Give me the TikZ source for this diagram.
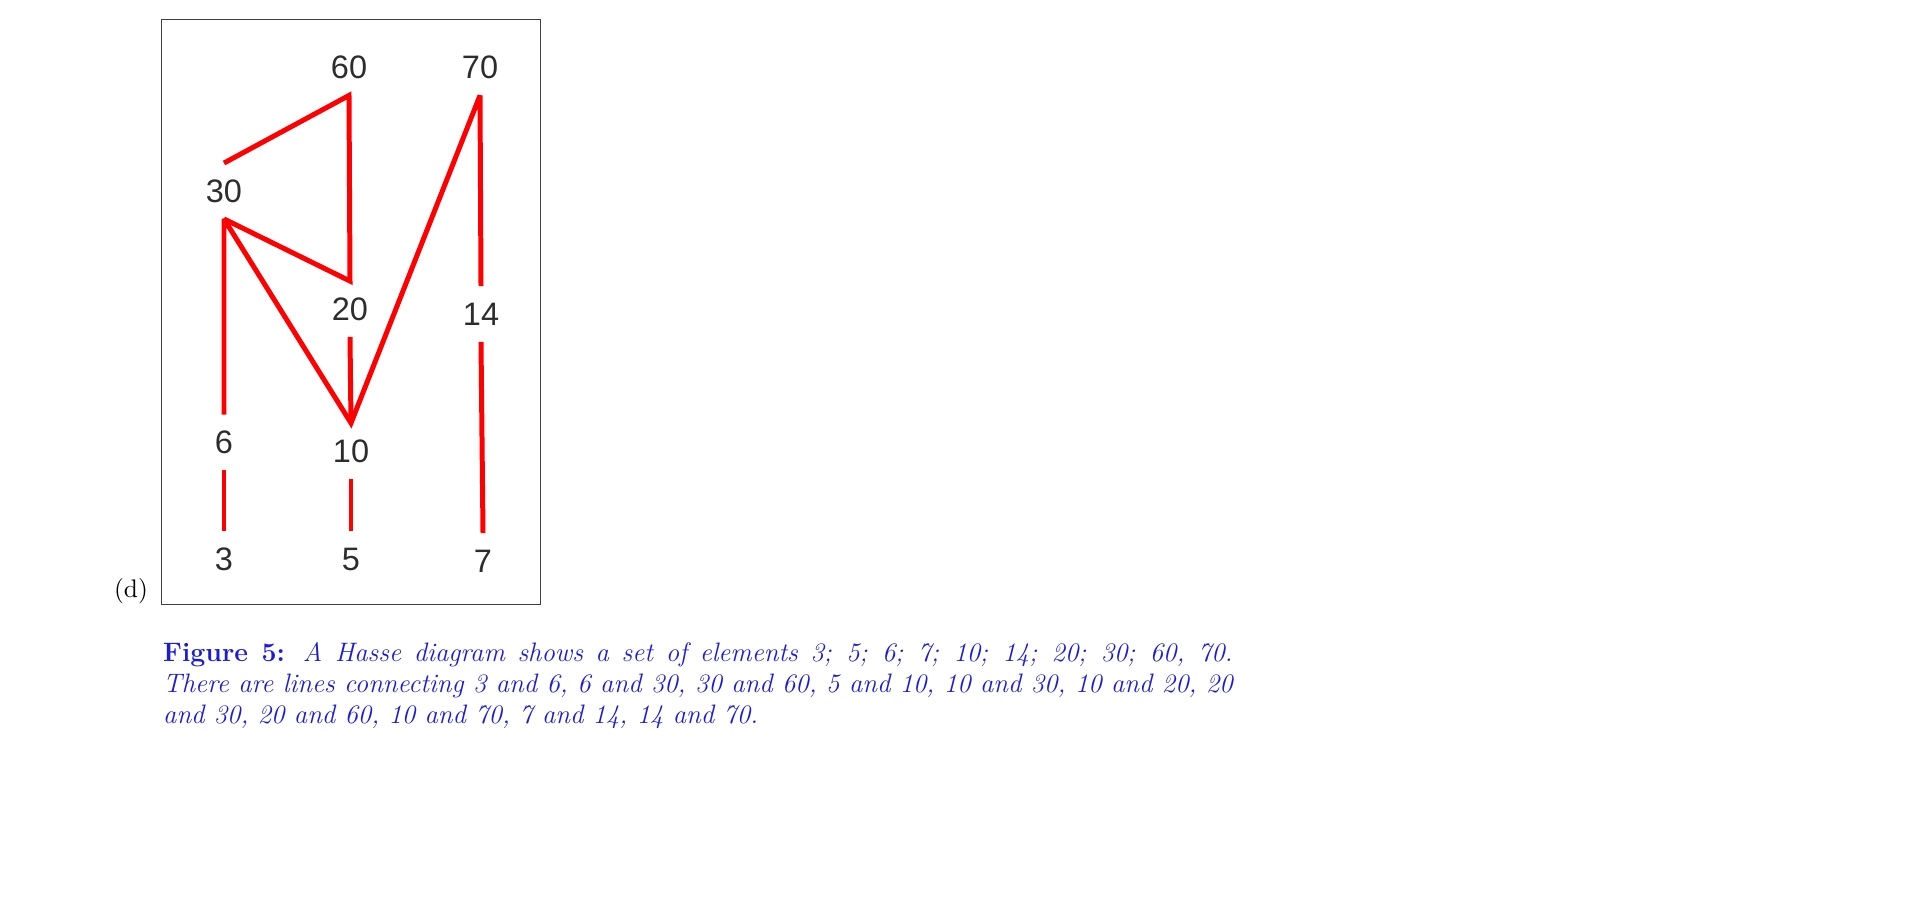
\documentclass[tikz,border=0pt]{standalone}
\usepackage{fontspec}
\newfontfamily\lblfont{Liberation Sans}
\definecolor{capblue}{RGB}{28,28,215}
\definecolor{lblgray}{RGB}{45,45,45}
\begin{document}
\begin{tikzpicture}[x=0.431pt, y=-0.431pt,
        lbl/.style={font=\lblfont\fontsize{14}{16}\selectfont, text=lblgray, inner sep=0pt, minimum height=23.7pt},
        edge/.style={red, line width=2.15pt, miter limit=2.5}]
        \useasboundingbox (0,0) rectangle (1914,903);
        \draw[line width=0.5pt, black!75] (161.7,19.3) rectangle (540.7,604.3);
        \node[anchor=base, font=\fontsize{10.95}{13.6}\selectfont] (sub) at (131,597) {(d)};
        % elements of the order
        \foreach \name/\x/\y in {60/349/67.5, 70/480/67.5, 30/224/191, 20/350/309, 14/481/314,
                6/224/442.5, 10/351/451, 3/224/559, 5/351/559, 7/483/561} {
            \node[lbl] (n\name) at (\x,\y) {\name};
        }
        % covering relations
        \draw[edge] (n6.north) -- (n30.south) -- (n10.north) -- (n70.south) -- (n14.north);
        \draw[edge] (n30.south) -- (n20.north) -- (n60.south) -- (n30.north);
        \draw[edge] (n20.south) -- (n10.north);
        \foreach \a/\b in {3/6, 5/10, 7/14} {
            \draw[edge] (n\a.north) -- (n\b.south);
        }
        \node[anchor=base west, text width=461pt, align=justify, inner sep=0pt, text=capblue,
                font=\fontsize{11.5}{13.5}\selectfont] (cap) at (162.7,661)
            {\textbf{Figure 5:} \textit{A Hasse diagram shows a set of elements 3; 5; 6; 7; 10; 14; 20; 30; 60, 70.\linebreak There are lines connecting 3 and 6, 6 and 30, 30 and 60, 5 and 10, 10 and 30, 10 and 20, 20\linebreak and 30, 20 and 60, 10 and 70, 7 and 14, 14 and 70.}};
    \end{tikzpicture}
\end{document}
